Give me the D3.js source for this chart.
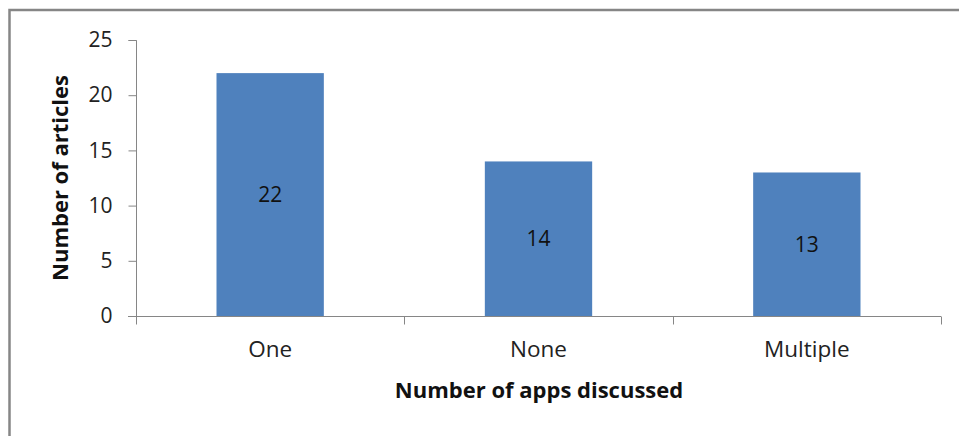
<!DOCTYPE html>
<html><head><meta charset="utf-8">
<script src="https://cdn.jsdelivr.net/npm/d3@7"></script>
<style>body{margin:0;background:#fff}svg{display:block}</style>
</head><body><svg id="c" width="959" height="436"></svg>
<script>
const categories = ["One", "None", "Multiple"];
const values = [22, 14, 13];
const yTicks = [0, 5, 10, 15, 20, 25];
const xTitle = "Number of apps discussed";
const yTitle = "Number of articles";

const svg = d3.select("#c");
const font = "'Open Sans', sans-serif";
// outer border
svg.append("path").attr("d", "M9.5,436 V10 H959").attr("fill","none").attr("stroke","#868686").attr("stroke-width",2.5);

const m = {l:136, r:941, t:40, b:316};
const x = d3.scaleBand().domain(categories).range([m.l, m.r]).paddingInner(0).paddingOuter(0);
const y = d3.scaleLinear().domain([0,25]).range([m.b, m.t]);
const bw = x.bandwidth()*0.4;

svg.selectAll("rect.bar").data(values).join("rect")
  .attr("x",(d,i)=>x(categories[i])+x.bandwidth()/2-bw/2)
  .attr("width",bw)
  .attr("y",d=>y(d)).attr("height",d=>y(0)-y(d))
  .attr("fill","#4F81BD");

// y axis
const ya = svg.append("g").attr("transform",`translate(${m.l+0.5},0)`)
  .call(d3.axisLeft(y).tickValues(yTicks).tickSize(8).tickPadding(16));
ya.select(".domain").attr("stroke","#868686").attr("d",`M-8,${y(25)+0.5}H0V${y(0)}`);
ya.selectAll(".tick line").attr("stroke","#868686");
ya.selectAll(".tick text").attr("font-family",font).attr("font-size",21).attr("fill","#222");

// x axis
const xa = svg.append("g").attr("transform",`translate(0,${m.b+0.5})`)
  .call(d3.axisBottom(x).tickSize(0).tickPadding(25));
xa.select(".domain").attr("stroke","#868686").attr("d",`M${m.l-8},0H${m.r}`);
xa.selectAll(".tick text").attr("font-family",font).attr("font-size",22.5).attr("fill","#222");
const bounds = categories.map(c=>x(c)).concat([m.r]);
xa.selectAll("line.sep").data(bounds).join("line").attr("class","sep")
  .attr("x1",d=>Math.round(d)+0.5).attr("x2",d=>Math.round(d)+0.5).attr("y1",0).attr("y2",8)
  .attr("stroke","#868686");

// data labels
svg.selectAll("text.lab").data(values).join("text")
  .attr("x",(d,i)=>x(categories[i])+x.bandwidth()/2)
  .attr("y",d=>(y(d)+y(0))/2)
  .attr("dy","0.35em").attr("text-anchor","middle")
  .attr("font-family",font).attr("font-size",21).attr("fill","#111")
  .text(d=>d);

svg.append("text").attr("x",539).attr("y",390).attr("dy","0.35em").attr("text-anchor","middle")
  .attr("font-family",font).attr("font-size",22).attr("font-weight","bold").attr("fill","#111").text(xTitle);
svg.append("text").attr("transform","translate(60,178) rotate(-90)").attr("dy","0.35em").attr("text-anchor","middle")
  .attr("font-family",font).attr("font-size",22).attr("font-weight","bold").attr("fill","#111").text(yTitle);
</script></body></html>
